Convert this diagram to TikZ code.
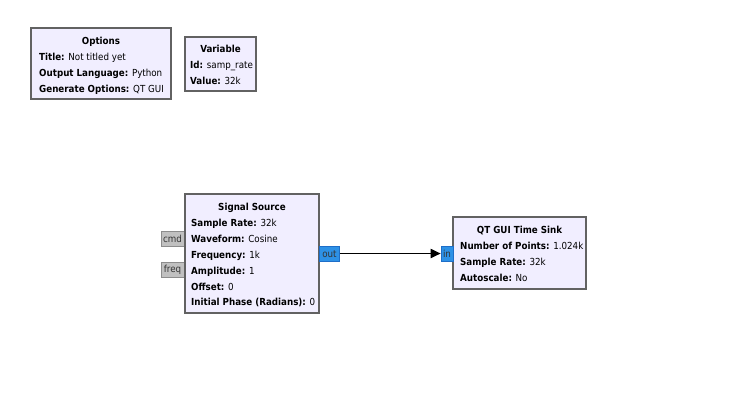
\documentclass[tikz,border=0pt]{standalone}
\usepackage{fontspec}
\IfFontExistsTF{DejaVu Sans Condensed}{\setmainfont{DejaVu Sans Condensed}\def\fsz{9.7}}{\setmainfont{DejaVu Sans}\def\fsz{8.65}}
\usetikzlibrary{arrows.meta}
\definecolor{blockfill}{RGB}{241,238,255}
\definecolor{blockline}{RGB}{98,98,98}
\definecolor{portblue}{RGB}{45,145,230}
\definecolor{portblueline}{RGB}{30,110,200}
\definecolor{portgray}{RGB}{192,192,192}
\definecolor{portgrayline}{RGB}{140,140,140}
\tikzset{
  x=1pt,y=-1pt,
  block/.style={draw=blockline,fill=blockfill,line width=1.6pt},
  bport/.style={draw=portblueline,fill=portblue,line width=0.6pt},
  gport/.style={draw=portgrayline,fill=portgray,line width=0.8pt},
  ttl/.style={font=\fontsize{\fsz}{10}\selectfont\bfseries,anchor=base,inner sep=0pt},
  prm/.style={font=\fontsize{\fsz}{10}\selectfont,anchor=base west,inner sep=0pt},
  plbl/.style={font=\fontsize{\fsz}{10}\selectfont,inner sep=0pt,text=black!80},
  wire/.style={line width=1.8pt,-{Triangle[length=10pt,width=9pt]}}
}
\begin{document}
\begin{tikzpicture}
\useasboundingbox (0,0) rectangle (741,410);
% Options
\draw[block] (31,28) rectangle (171,99);
\node[ttl] (optT) at (101,44) {Options};
\node[prm] (opt1) at (39,60) {\textbf{Title:} Not titled yet};
\node[prm] (opt2) at (39,76) {\textbf{Output Language:} Python};
\node[prm] (opt3) at (39,92) {\textbf{Generate Options:} QT GUI};
% Variable
\draw[block] (185,37) rectangle (256,91);
\node[ttl] (varT) at (220.5,52) {Variable};
\node[prm] (var1) at (190,68) {\textbf{Id:} samp\_rate};
\node[prm] (var2) at (190,84) {\textbf{Value:} 32k};
% Signal Source
\node[gport,minimum width=23pt,minimum height=15pt,inner sep=0pt] (cmd) at (172.5,238.5) {};
\node[plbl] at ([yshift=-0.5pt]cmd) {cmd};
\node[gport,minimum width=23pt,minimum height=15pt,inner sep=0pt] (freq) at (172.5,269.5) {};
\node[plbl] at ([yshift=-0.5pt]freq) {freq};
\draw[block] (185,194) rectangle (319,313);
\node[ttl] (ssT) at (252,210) {Signal Source};
\node[prm] (ss1) at (191,226) {\textbf{Sample Rate:} 32k};
\node[prm] (ss2) at (191,242) {\textbf{Waveform:} Cosine};
\node[prm] (ss3) at (191,258) {\textbf{Frequency:} 1k};
\node[prm] (ss4) at (191,274) {\textbf{Amplitude:} 1};
\node[prm] (ss5) at (191,290) {\textbf{Offset:} 0};
\node[prm] (ss6) at (191,305) {\textbf{Initial Phase (Radians):} 0};
\node[bport,minimum width=20pt,minimum height=15pt,inner sep=0pt] (out) at (329.5,253.5) {};
\node[plbl] at ([yshift=-0.5pt]out) {out};
% Time sink
\draw[block] (453,217) rectangle (586,289);
\node[ttl] (tsT) at (519.5,233) {QT GUI Time Sink};
\node[prm] (ts1) at (460,249) {\textbf{Number of Points:} 1.024k};
\node[prm] (ts2) at (460,265) {\textbf{Sample Rate:} 32k};
\node[prm] (ts3) at (460,281) {\textbf{Autoscale:} No};
\node[bport,minimum width=12pt,minimum height=15pt,inner sep=0pt] (in) at (447,253.5) {};
\node[plbl] at ([yshift=-0.5pt]in) {in};
% wire
\draw[wire] (out.east) -- (in.west);
\end{tikzpicture}
\end{document}
